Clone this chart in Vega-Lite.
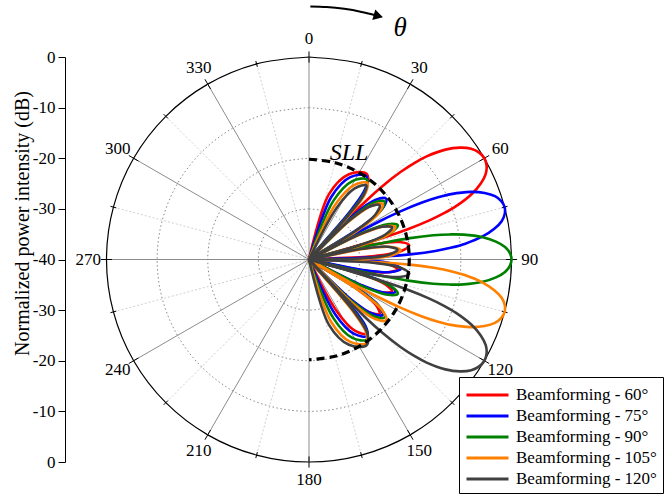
{
"$schema": "https://vega.github.io/schema/vega-lite/v6.json",
"width": 548, "height": 405,
"autosize": "none",
"padding": {"left": 65, "top": 57, "right": 51, "bottom": 32},
"background": "white",
"config": {"view": {"stroke": null}, "font": "Liberation Serif"},
"datasets": {
"circ": [
{"lv":-30,"th":0},{"lv":-30,"th":15},{"lv":-30,"th":30},{"lv":-30,"th":45},{"lv":-30,"th":60},{"lv":-30,"th":75},{"lv":-30,"th":90},{"lv":-30,"th":105},{"lv":-30,"th":120},{"lv":-30,"th":135},{"lv":-30,"th":150},{"lv":-30,"th":165},{"lv":-30,"th":180},{"lv":-30,"th":195},{"lv":-30,"th":210},{"lv":-30,"th":225},{"lv":-30,"th":240},{"lv":-30,"th":255},{"lv":-30,"th":270},{"lv":-30,"th":285},{"lv":-30,"th":300},{"lv":-30,"th":315},{"lv":-30,"th":330},{"lv":-30,"th":345},{"lv":-30,"th":360},
{"lv":-20,"th":0},{"lv":-20,"th":15},{"lv":-20,"th":30},{"lv":-20,"th":45},{"lv":-20,"th":60},{"lv":-20,"th":75},{"lv":-20,"th":90},{"lv":-20,"th":105},{"lv":-20,"th":120},{"lv":-20,"th":135},{"lv":-20,"th":150},{"lv":-20,"th":165},{"lv":-20,"th":180},{"lv":-20,"th":195},{"lv":-20,"th":210},{"lv":-20,"th":225},{"lv":-20,"th":240},{"lv":-20,"th":255},{"lv":-20,"th":270},{"lv":-20,"th":285},{"lv":-20,"th":300},{"lv":-20,"th":315},{"lv":-20,"th":330},{"lv":-20,"th":345},{"lv":-20,"th":360},
{"lv":-10,"th":0},{"lv":-10,"th":15},{"lv":-10,"th":30},{"lv":-10,"th":45},{"lv":-10,"th":60},{"lv":-10,"th":75},{"lv":-10,"th":90},{"lv":-10,"th":105},{"lv":-10,"th":120},{"lv":-10,"th":135},{"lv":-10,"th":150},{"lv":-10,"th":165},{"lv":-10,"th":180},{"lv":-10,"th":195},{"lv":-10,"th":210},{"lv":-10,"th":225},{"lv":-10,"th":240},{"lv":-10,"th":255},{"lv":-10,"th":270},{"lv":-10,"th":285},{"lv":-10,"th":300},{"lv":-10,"th":315},{"lv":-10,"th":330},{"lv":-10,"th":345},{"lv":-10,"th":360},
{"lv":0,"th":0},{"lv":0,"th":15},{"lv":0,"th":30},{"lv":0,"th":45},{"lv":0,"th":60},{"lv":0,"th":75},{"lv":0,"th":90},{"lv":0,"th":105},{"lv":0,"th":120},{"lv":0,"th":135},{"lv":0,"th":150},{"lv":0,"th":165},{"lv":0,"th":180},{"lv":0,"th":195},{"lv":0,"th":210},{"lv":0,"th":225},{"lv":0,"th":240},{"lv":0,"th":255},{"lv":0,"th":270},{"lv":0,"th":285},{"lv":0,"th":300},{"lv":0,"th":315},{"lv":0,"th":330},{"lv":0,"th":345},{"lv":0,"th":360}
],
"rad": [{"a":0},{"a":15},{"a":30},{"a":45},{"a":60},{"a":75},{"a":90},{"a":105},{"a":120},{"a":135},{"a":150},{"a":165},{"a":180},{"a":195},{"a":210},{"a":225},{"a":240},{"a":255},{"a":270},{"a":285},{"a":300},{"a":315},{"a":330},{"a":345}],
"beam": [
{"b":"60","th":6,"db":-40},{"b":"60","th":17.01,"db":-26.5},{"b":"60","th":25.08,"db":-21.4},{"b":"60","th":33.89,"db":-19.6},{"b":"60","th":38.3,"db":-21.4},{"b":"60","th":40.87,"db":-26.5},{"b":"60","th":42.7,"db":-40},{"b":"60","th":43.45,"db":-30.7},{"b":"60","th":44.23,"db":-23.8},{"b":"60","th":45.02,"db":-19.6},{"b":"60","th":46.29,"db":-15},{"b":"60","th":47.54,"db":-11.7},{"b":"60","th":48.77,"db":-9.1},{"b":"60","th":51.15,"db":-5.4},{"b":"60","th":53.45,"db":-2.9},{"b":"60","th":55.69,"db":-1.2},{"b":"60","th":57.87,"db":-0.3},{"b":"60","th":60,"db":0},{"b":"60","th":62.08,"db":-0.3},{"b":"60","th":64.13,"db":-1.2},{"b":"60","th":66.14,"db":-2.9},{"b":"60","th":68.12,"db":-5.4},{"b":"60","th":70.07,"db":-9.1},{"b":"60","th":71.04,"db":-11.7},{"b":"60","th":72,"db":-15},{"b":"60","th":72.96,"db":-19.6},{"b":"60","th":73.53,"db":-23.8},{"b":"60","th":74.1,"db":-30.7},{"b":"60","th":74.63,"db":-40},{"b":"60","th":76.84,"db":-26.9},{"b":"60","th":79.04,"db":-21.8},{"b":"60","th":81.95,"db":-20},{"b":"60","th":84.83,"db":-21.8},{"b":"60","th":86.98,"db":-26.9},{"b":"60","th":89.13,"db":-40},{"b":"60","th":91.28,"db":-29.3},{"b":"60","th":93.43,"db":-24.2},{"b":"60","th":96.31,"db":-22.4},{"b":"60","th":99.2,"db":-24.2},{"b":"60","th":101.38,"db":-29.3},{"b":"60","th":103.59,"db":-40},{"b":"60","th":105.81,"db":-29.3},{"b":"60","th":108.05,"db":-24.2},{"b":"60","th":111.09,"db":-22.4},{"b":"60","th":114.2,"db":-24.2},{"b":"60","th":116.58,"db":-29.3},{"b":"60","th":119.01,"db":-40},{"b":"60","th":121.49,"db":-29.3},{"b":"60","th":124.05,"db":-24.2},{"b":"60","th":127.58,"db":-22.4},{"b":"60","th":131.29,"db":-24.2},{"b":"60","th":134.22,"db":-29.3},{"b":"60","th":137.3,"db":-40},{"b":"60","th":138.33,"db":-28.4},{"b":"60","th":139.78,"db":-23.3},{"b":"60","th":142.27,"db":-21.5},{"b":"60","th":147.24,"db":-23.3},{"b":"60","th":151.79,"db":-28.4},{"b":"60","th":158,"db":-40},
{"b":"75","th":10,"db":-40},{"b":"75","th":19.59,"db":-26.9},{"b":"75","th":26.61,"db":-21.8},{"b":"75","th":34.28,"db":-20},{"b":"75","th":38.12,"db":-21.8},{"b":"75","th":40.35,"db":-26.9},{"b":"75","th":41.95,"db":-40},{"b":"75","th":45.07,"db":-27.5},{"b":"75","th":48.03,"db":-22.4},{"b":"75","th":51.78,"db":-20.6},{"b":"75","th":55.34,"db":-22.4},{"b":"75","th":57.91,"db":-27.5},{"b":"75","th":60.41,"db":-40},{"b":"75","th":61,"db":-30.7},{"b":"75","th":61.62,"db":-23.8},{"b":"75","th":62.25,"db":-19.6},{"b":"75","th":63.27,"db":-15},{"b":"75","th":64.28,"db":-11.7},{"b":"75","th":65.29,"db":-9.1},{"b":"75","th":67.29,"db":-5.4},{"b":"75","th":69.25,"db":-2.9},{"b":"75","th":71.19,"db":-1.2},{"b":"75","th":73.11,"db":-0.3},{"b":"75","th":75,"db":0},{"b":"75","th":76.88,"db":-0.3},{"b":"75","th":78.75,"db":-1.2},{"b":"75","th":80.6,"db":-2.9},{"b":"75","th":82.44,"db":-5.4},{"b":"75","th":84.28,"db":-9.1},{"b":"75","th":85.2,"db":-11.7},{"b":"75","th":86.11,"db":-15},{"b":"75","th":87.03,"db":-19.6},{"b":"75","th":87.58,"db":-23.8},{"b":"75","th":88.12,"db":-30.7},{"b":"75","th":88.63,"db":-40},{"b":"75","th":90.78,"db":-28.7},{"b":"75","th":92.93,"db":-23.6},{"b":"75","th":95.8,"db":-21.8},{"b":"75","th":98.69,"db":-23.6},{"b":"75","th":100.87,"db":-28.7},{"b":"75","th":103.07,"db":-40},{"b":"75","th":105.28,"db":-28.7},{"b":"75","th":107.52,"db":-23.6},{"b":"75","th":110.55,"db":-21.8},{"b":"75","th":113.65,"db":-23.6},{"b":"75","th":116.01,"db":-28.7},{"b":"75","th":118.43,"db":-40},{"b":"75","th":120.9,"db":-28.7},{"b":"75","th":123.44,"db":-23.6},{"b":"75","th":126.95,"db":-21.8},{"b":"75","th":130.62,"db":-23.6},{"b":"75","th":133.52,"db":-28.7},{"b":"75","th":136.56,"db":-40},{"b":"75","th":137.83,"db":-27.9},{"b":"75","th":139.61,"db":-22.8},{"b":"75","th":142.67,"db":-21},{"b":"75","th":148.77,"db":-22.8},{"b":"75","th":154.37,"db":-27.9},{"b":"75","th":162,"db":-40},
{"b":"90","th":14,"db":-40},{"b":"90","th":22.61,"db":-27.4},{"b":"90","th":28.92,"db":-22.3},{"b":"90","th":35.81,"db":-20.5},{"b":"90","th":39.26,"db":-22.3},{"b":"90","th":41.27,"db":-27.4},{"b":"90","th":42.7,"db":-40},{"b":"90","th":45.78,"db":-28.1},{"b":"90","th":48.71,"db":-23},{"b":"90","th":52.42,"db":-21.2},{"b":"90","th":55.95,"db":-23},{"b":"90","th":58.51,"db":-28.1},{"b":"90","th":60.99,"db":-40},{"b":"90","th":63.42,"db":-28.1},{"b":"90","th":65.8,"db":-23},{"b":"90","th":68.91,"db":-21.2},{"b":"90","th":71.95,"db":-23},{"b":"90","th":74.19,"db":-28.1},{"b":"90","th":76.41,"db":-40},{"b":"90","th":76.94,"db":-30.7},{"b":"90","th":77.5,"db":-23.8},{"b":"90","th":78.06,"db":-19.6},{"b":"90","th":78.99,"db":-15},{"b":"90","th":79.92,"db":-11.7},{"b":"90","th":80.84,"db":-9.1},{"b":"90","th":82.69,"db":-5.4},{"b":"90","th":84.52,"db":-2.9},{"b":"90","th":86.35,"db":-1.2},{"b":"90","th":88.18,"db":-0.3},{"b":"90","th":90,"db":0},{"b":"90","th":91.82,"db":-0.3},{"b":"90","th":93.65,"db":-1.2},{"b":"90","th":95.48,"db":-2.9},{"b":"90","th":97.31,"db":-5.4},{"b":"90","th":99.16,"db":-9.1},{"b":"90","th":100.08,"db":-11.7},{"b":"90","th":101.01,"db":-15},{"b":"90","th":101.94,"db":-19.6},{"b":"90","th":102.5,"db":-23.8},{"b":"90","th":103.06,"db":-30.7},{"b":"90","th":103.59,"db":-40},{"b":"90","th":105.81,"db":-28.1},{"b":"90","th":108.05,"db":-23},{"b":"90","th":111.09,"db":-21.2},{"b":"90","th":114.2,"db":-23},{"b":"90","th":116.58,"db":-28.1},{"b":"90","th":119.01,"db":-40},{"b":"90","th":121.49,"db":-28.1},{"b":"90","th":124.05,"db":-23},{"b":"90","th":127.58,"db":-21.2},{"b":"90","th":131.29,"db":-23},{"b":"90","th":134.22,"db":-28.1},{"b":"90","th":137.3,"db":-40},{"b":"90","th":138.73,"db":-27.4},{"b":"90","th":140.74,"db":-22.3},{"b":"90","th":144.19,"db":-20.5},{"b":"90","th":151.08,"db":-22.3},{"b":"90","th":157.39,"db":-27.4},{"b":"90","th":166,"db":-40},
{"b":"105","th":18,"db":-40},{"b":"105","th":25.63,"db":-27.9},{"b":"105","th":31.23,"db":-22.8},{"b":"105","th":37.33,"db":-21},{"b":"105","th":40.39,"db":-22.8},{"b":"105","th":42.17,"db":-27.9},{"b":"105","th":43.44,"db":-40},{"b":"105","th":46.48,"db":-28.7},{"b":"105","th":49.38,"db":-23.6},{"b":"105","th":53.05,"db":-21.8},{"b":"105","th":56.56,"db":-23.6},{"b":"105","th":59.1,"db":-28.7},{"b":"105","th":61.57,"db":-40},{"b":"105","th":63.99,"db":-28.7},{"b":"105","th":66.35,"db":-23.6},{"b":"105","th":69.45,"db":-21.8},{"b":"105","th":72.48,"db":-23.6},{"b":"105","th":74.72,"db":-28.7},{"b":"105","th":76.93,"db":-40},{"b":"105","th":79.13,"db":-28.7},{"b":"105","th":81.31,"db":-23.6},{"b":"105","th":84.2,"db":-21.8},{"b":"105","th":87.07,"db":-23.6},{"b":"105","th":89.22,"db":-28.7},{"b":"105","th":91.37,"db":-40},{"b":"105","th":91.88,"db":-30.7},{"b":"105","th":92.42,"db":-23.8},{"b":"105","th":92.97,"db":-19.6},{"b":"105","th":93.89,"db":-15},{"b":"105","th":94.8,"db":-11.7},{"b":"105","th":95.72,"db":-9.1},{"b":"105","th":97.56,"db":-5.4},{"b":"105","th":99.4,"db":-2.9},{"b":"105","th":101.25,"db":-1.2},{"b":"105","th":103.12,"db":-0.3},{"b":"105","th":105,"db":0},{"b":"105","th":106.89,"db":-0.3},{"b":"105","th":108.81,"db":-1.2},{"b":"105","th":110.75,"db":-2.9},{"b":"105","th":112.71,"db":-5.4},{"b":"105","th":114.71,"db":-9.1},{"b":"105","th":115.72,"db":-11.7},{"b":"105","th":116.73,"db":-15},{"b":"105","th":117.75,"db":-19.6},{"b":"105","th":118.38,"db":-23.8},{"b":"105","th":119,"db":-30.7},{"b":"105","th":119.59,"db":-40},{"b":"105","th":122.09,"db":-27.5},{"b":"105","th":124.66,"db":-22.4},{"b":"105","th":128.22,"db":-20.6},{"b":"105","th":131.97,"db":-22.4},{"b":"105","th":134.93,"db":-27.5},{"b":"105","th":138.05,"db":-40},{"b":"105","th":139.65,"db":-26.9},{"b":"105","th":141.88,"db":-21.8},{"b":"105","th":145.72,"db":-20},{"b":"105","th":153.39,"db":-21.8},{"b":"105","th":160.41,"db":-26.9},{"b":"105","th":170,"db":-40},
{"b":"120","th":22,"db":-40},{"b":"120","th":28.21,"db":-28.4},{"b":"120","th":32.76,"db":-23.3},{"b":"120","th":37.73,"db":-21.5},{"b":"120","th":40.22,"db":-23.3},{"b":"120","th":41.67,"db":-28.4},{"b":"120","th":42.7,"db":-40},{"b":"120","th":45.78,"db":-29.3},{"b":"120","th":48.71,"db":-24.2},{"b":"120","th":52.42,"db":-22.4},{"b":"120","th":55.95,"db":-24.2},{"b":"120","th":58.51,"db":-29.3},{"b":"120","th":60.99,"db":-40},{"b":"120","th":63.42,"db":-29.3},{"b":"120","th":65.8,"db":-24.2},{"b":"120","th":68.91,"db":-22.4},{"b":"120","th":71.95,"db":-24.2},{"b":"120","th":74.19,"db":-29.3},{"b":"120","th":76.41,"db":-40},{"b":"120","th":78.62,"db":-29.3},{"b":"120","th":80.8,"db":-24.2},{"b":"120","th":83.69,"db":-22.4},{"b":"120","th":86.57,"db":-24.2},{"b":"120","th":88.72,"db":-29.3},{"b":"120","th":90.87,"db":-40},{"b":"120","th":93.02,"db":-26.9},{"b":"120","th":95.17,"db":-21.8},{"b":"120","th":98.05,"db":-20},{"b":"120","th":100.96,"db":-21.8},{"b":"120","th":103.16,"db":-26.9},{"b":"120","th":105.37,"db":-40},{"b":"120","th":105.9,"db":-30.7},{"b":"120","th":106.47,"db":-23.8},{"b":"120","th":107.04,"db":-19.6},{"b":"120","th":108,"db":-15},{"b":"120","th":108.96,"db":-11.7},{"b":"120","th":109.93,"db":-9.1},{"b":"120","th":111.88,"db":-5.4},{"b":"120","th":113.86,"db":-2.9},{"b":"120","th":115.87,"db":-1.2},{"b":"120","th":117.92,"db":-0.3},{"b":"120","th":120,"db":0},{"b":"120","th":122.13,"db":-0.3},{"b":"120","th":124.31,"db":-1.2},{"b":"120","th":126.55,"db":-2.9},{"b":"120","th":128.85,"db":-5.4},{"b":"120","th":131.23,"db":-9.1},{"b":"120","th":132.46,"db":-11.7},{"b":"120","th":133.71,"db":-15},{"b":"120","th":134.98,"db":-19.6},{"b":"120","th":135.77,"db":-23.8},{"b":"120","th":136.55,"db":-30.7},{"b":"120","th":137.3,"db":-40},{"b":"120","th":139.13,"db":-26.5},{"b":"120","th":141.7,"db":-21.4},{"b":"120","th":146.11,"db":-19.6},{"b":"120","th":154.92,"db":-21.4},{"b":"120","th":162.99,"db":-26.5},{"b":"120","th":174,"db":-40}
]
},
"layer": [
{
"data": {"name": "circ"},
"transform": [{"filter": "datum.lv < 0"},
{"calculate": "(datum.lv+40)*sin(datum.th*PI/180)", "as": "x"},
{"calculate": "(datum.lv+40)*cos(datum.th*PI/180)", "as": "y"}],
"mark": {"type": "line", "interpolate": "catmull-rom", "stroke": "#8a8a8a", "strokeWidth": 1, "strokeDash": [1.5, 2.5]},
"encoding": {
"x": {"field": "x", "type": "quantitative", "scale": {"domain": [-48.198, 60.049], "nice": false, "zero": false}, "axis": null},
"y": {"field": "y", "type": "quantitative", "scale": {"domain": [-40, 40], "nice": false, "zero": false},
"axis": {"values": [-40,-35,-30,-25,-20,-15,-10,-5,0,5,10,15,20,25,30,35,40],
"labelExpr": "datum.value % 10 === 0 ? '' + (abs(datum.value) - 40) : ''",
"tickSize": {"condition": {"test": "datum.value % 10 === 0", "value": 7}, "value": 4},
"labelFont": "Liberation Serif", "labelFontSize": 17, "labelColor": "black", "labelPadding": 3,
"tickColor": "black", "domainColor": "black", "grid": false, "labelFlush": false, "labelOverlap": false,
"title": "Normalized power intensity (dB)", "titleFont": "Liberation Serif", "titleFontSize": 20, "titleFontWeight": "normal", "titleColor": "black",
"titleX": -43, "titleY": 166, "titleAlign": "center", "titleBaseline": "middle", "titleAngle": 270}},
"detail": {"field": "lv", "type": "nominal"},
"order": {"field": "th", "type": "quantitative"}
}
},
{
"data": {"name": "circ"},
"transform": [{"filter": "datum.lv === 0"},
{"calculate": "(datum.lv+40)*sin(datum.th*PI/180)", "as": "x"},
{"calculate": "(datum.lv+40)*cos(datum.th*PI/180)", "as": "y"}],
"mark": {"type": "line", "interpolate": "catmull-rom", "stroke": "black", "strokeWidth": 1.2},
"encoding": {
"x": {"field": "x", "type": "quantitative"},
"y": {"field": "y", "type": "quantitative"},
"order": {"field": "th", "type": "quantitative"}
}
},
{
"data": {"name": "rad"},
"transform": [{"filter": "datum.a % 30 !== 0"},
{"calculate": "0", "as": "x"}, {"calculate": "0", "as": "y"},
{"calculate": "40*sin(datum.a*PI/180)", "as": "x2"},
{"calculate": "40*cos(datum.a*PI/180)", "as": "y2"}],
"mark": {"type": "rule", "color": "#c4c4c4", "strokeWidth": 0.8, "strokeDash": [2, 2]},
"encoding": {
"x": {"field": "x", "type": "quantitative"},
"y": {"field": "y", "type": "quantitative"},
"x2": {"field": "x2"},
"y2": {"field": "y2"}
}
},
{
"data": {"name": "rad"},
"transform": [{"filter": "datum.a % 30 === 0"},
{"calculate": "0", "as": "x"}, {"calculate": "0", "as": "y"},
{"calculate": "40*sin(datum.a*PI/180)", "as": "x2"},
{"calculate": "40*cos(datum.a*PI/180)", "as": "y2"}],
"mark": {"type": "rule", "color": "#8c8c8c", "strokeWidth": 1},
"encoding": {
"x": {"field": "x", "type": "quantitative"},
"y": {"field": "y", "type": "quantitative"},
"x2": {"field": "x2"},
"y2": {"field": "y2"}
}
},
{
"data": {"name": "rad"},
"transform": [{"calculate": "datum.a % 30 === 0 ? 38.9 : 39.4", "as": "r1"},
{"calculate": "datum.a % 30 === 0 ? 41.1 : 40.6", "as": "r2"},
{"calculate": "datum.r1*sin(datum.a*PI/180)", "as": "x"},
{"calculate": "datum.r1*cos(datum.a*PI/180)", "as": "y"},
{"calculate": "datum.r2*sin(datum.a*PI/180)", "as": "x2"},
{"calculate": "datum.r2*cos(datum.a*PI/180)", "as": "y2"}],
"mark": {"type": "rule", "color": "black", "strokeWidth": 1},
"encoding": {
"x": {"field": "x", "type": "quantitative"},
"y": {"field": "y", "type": "quantitative"},
"x2": {"field": "x2"},
"y2": {"field": "y2"}
}
},
{
"data": {"name": "beam"},
"transform": [{"calculate": "max(datum.db, -40) + 40", "as": "r"},
{"calculate": "datum.r*sin(datum.th*PI/180)", "as": "x"},
{"calculate": "datum.r*cos(datum.th*PI/180)", "as": "y"}],
"mark": {"type": "line", "interpolate": "catmull-rom", "strokeWidth": 2.6},
"encoding": {
"x": {"field": "x", "type": "quantitative"},
"y": {"field": "y", "type": "quantitative"},
"color": {"field": "b", "type": "nominal",
"scale": {"domain": ["60", "75", "90", "105", "120"], "range": ["#ff0000", "#0000ff", "#008000", "#ff8000", "#404040"]},
"legend": {"orient": "none", "legendX": 394, "legendY": 320, "title": null,
"labelExpr": "'Beamforming - ' + datum.label + '°'",
"labelFont": "Liberation Serif", "labelFontSize": 17, "labelColor": "black", "labelLimit": 300,
"symbolType": "M-1,0H3", "symbolSize": 441, "symbolStrokeWidth": 3, "symbolFillColor": "transparent",
"labelOffset": 27, "rowPadding": 1, "padding": 6,
"strokeColor": "black", "fillColor": "white", "cornerRadius": 0}},
"order": {"field": "th", "type": "quantitative"}
}
},
{
"data": {"values": [{"th":0},{"th":15},{"th":30},{"th":45},{"th":60},{"th":75},{"th":90},{"th":105},{"th":120},{"th":135},{"th":150},{"th":165},{"th":180}]},
"transform": [{"calculate": "19.8*sin(datum.th*PI/180)", "as": "x"},
{"calculate": "19.8*cos(datum.th*PI/180)", "as": "y"}],
"mark": {"type": "line", "interpolate": "catmull-rom", "stroke": "black", "strokeWidth": 3.2, "strokeDash": [8, 5]},
"encoding": {
"x": {"field": "x", "type": "quantitative"},
"y": {"field": "y", "type": "quantitative"},
"order": {"field": "th", "type": "quantitative"}
}
},
{
"data": {"values": [{"a":0,"t":"0"},{"a":30,"t":"30"},{"a":60,"t":"60"},{"a":90,"t":"90"},{"a":120,"t":"120"},{"a":150,"t":"150"},{"a":180,"t":"180"},{"a":210,"t":"210"},{"a":240,"t":"240"},{"a":270,"t":"270"},{"a":300,"t":"300"},{"a":330,"t":"330"}]},
"transform": [{"calculate": "43.6*sin(datum.a*PI/180)", "as": "x"},
{"calculate": "43.6*cos(datum.a*PI/180)", "as": "y"}],
"mark": {"type": "text", "font": "Liberation Serif", "fontSize": 17, "color": "black", "align": "center", "baseline": "middle"},
"encoding": {
"x": {"field": "x", "type": "quantitative"},
"y": {"field": "y", "type": "quantitative"},
"text": {"field": "t"}
}
},
{
"data": {"values": [{"th":20.6,"db":-17.5,"t":"SLL"}]},
"transform": [{"calculate": "(datum.db+40)*sin(datum.th*PI/180)", "as": "x"},
{"calculate": "(datum.db+40)*cos(datum.th*PI/180)", "as": "y"}],
"mark": {"type": "text", "font": "Liberation Serif", "fontSize": 24, "fontStyle": "italic", "color": "black", "align": "center", "baseline": "middle"},
"encoding": {
"x": {"field": "x", "type": "quantitative"},
"y": {"field": "y", "type": "quantitative"},
"text": {"field": "t"}
}
},
{
"data": {"values": [{"th":21.5,"db":9.1,"t":"θ"}]},
"transform": [{"calculate": "(datum.db+40)*sin(datum.th*PI/180)", "as": "x"},
{"calculate": "(datum.db+40)*cos(datum.th*PI/180)", "as": "y"}],
"mark": {"type": "text", "font": "Liberation Serif", "fontSize": 27, "fontStyle": "italic", "color": "black", "align": "center", "baseline": "middle"},
"encoding": {
"x": {"field": "x", "type": "quantitative"},
"y": {"field": "y", "type": "quantitative"},
"text": {"field": "t"}
}
},
{
"data": {"values": [{"th":0.3,"db":10},{"th":4,"db":10},{"th":8,"db":10},{"th":12,"db":10},{"th":15,"db":10}]},
"transform": [{"calculate": "(datum.db+40)*sin(datum.th*PI/180)", "as": "x"},
{"calculate": "(datum.db+40)*cos(datum.th*PI/180)", "as": "y"}],
"mark": {"type": "line", "interpolate": "catmull-rom", "stroke": "black", "strokeWidth": 2},
"encoding": {
"x": {"field": "x", "type": "quantitative"},
"y": {"field": "y", "type": "quantitative"},
"order": {"field": "th", "type": "quantitative"}
}
},
{
"data": {"values": [{"th":15.9,"db":10}]},
"transform": [{"calculate": "(datum.db+40)*sin(datum.th*PI/180)", "as": "x"},
{"calculate": "(datum.db+40)*cos(datum.th*PI/180)", "as": "y"}],
"mark": {"type": "point", "shape": "triangle-right", "filled": true, "color": "black", "size": 120, "angle": 16, "opacity": 1},
"encoding": {
"x": {"field": "x", "type": "quantitative"},
"y": {"field": "y", "type": "quantitative"}
}
}
]
}
